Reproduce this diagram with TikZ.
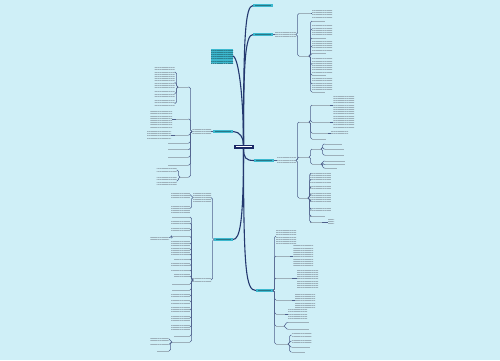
\documentclass[tikz,border=0pt]{standalone}
\usetikzlibrary{patterns.meta}
\definecolor{bgc}{HTML}{CFEFF7}
\definecolor{topicc}{HTML}{3DB9CF}
\definecolor{rootc}{HTML}{1A2866}
\definecolor{linkc}{HTML}{23386F}
\definecolor{txtc}{HTML}{9DB0BA}
\tikzset{
every node/.style={inner sep=0pt, outer sep=0pt}, % nodes are exactly as large as asked
greek/.style={anchor=west, pattern={Lines[distance=2.2pt, line width=0.55pt]}, pattern color=txtc}, % block of tiny text
ln/.style={anchor=west, fill=txtc, minimum height=0.7pt}, % one line of tiny text
topic/.style={anchor=west, fill=topicc, minimum width=20pt, minimum height=3.5pt,
  path picture={\fill[topicc!65!black] ([xshift=2pt,yshift=-0.25pt]path picture bounding box.west) rectangle ([xshift=-2pt,yshift=0.25pt]path picture bounding box.east);}},
root/.style={fill=rootc, minimum width=20pt, minimum height=4pt,
  path picture={\fill[white] ([xshift=2pt,yshift=-0.35pt]path picture bounding box.west) rectangle ([xshift=-2pt,yshift=0.35pt]path picture bounding box.east);}},
note/.style={anchor=west, preaction={fill=topicc}, pattern={Lines[distance=2.2pt, line width=0.4pt]}, pattern color=topicc!70!black},
link/.style={draw=linkc, line width=1.1pt}, % root to main topics
sub/.style={draw=linkc!80, line width=0.5pt, rounded corners=1.5pt}, % everything further out
}
% name, left x, y, width, height
\newcommand{\blk}[5]{%
  \ifdim#5pt<2pt
    \node[ln, minimum width={(#4)*1pt}] (#1) at (#2,#3) {};
  \else
    \node[greek, minimum width={(#4)*1pt}, minimum height={(#5)*1pt}] (#1) at (#2,#3) {};
  \fi}

\begin{document}
\begin{tikzpicture}[x=1pt, y=-1pt]
\useasboundingbox[fill=bgc] (0,0) rectangle (500,360);

\node[root] (root) at (243.5,146.5) {};
\node[topic] (b1) at (253,5.5) {};
\node[topic] (b2) at (253,34.5) {};
\node[note, minimum width=22pt, minimum height=14pt] (note) at (211,56) {};
\node[topic] (b3) at (213,131.5) {};
\node[topic] (b4) at (254,160.5) {};
\node[topic, minimum width=19pt] (b5) at (214,239.5) {};
\node[topic, minimum width=17pt] (b6) at (256,290.5) {};
\draw[link] (root.north) .. controls (243.5,40) and (245,5.5) .. (b1.west);
\draw[link] (root.north) .. controls (243.5,65) and (245,34.5) .. (b2.west);
\draw[link] (root.north) .. controls (243.5,100) and (239,58) .. (note.east);
\draw[link] (root.north) .. controls (243.5,138) and (240,131.5) .. (b3.east);
\draw[link] (root.south) .. controls (243.5,158) and (246,160.5) .. (b4.west);
\draw[link] (root.south) .. controls (243.5,222) and (240,239.5) .. (b5.east);
\draw[link] (root.south) .. controls (243.5,272) and (246,290.5) .. (b6.west);

% upper right
\blk{t2}{275}{34.5}{21}{6}
\draw[sub] (b2.east) -- (t2.west);
\blk{p1}{299}{13.5}{12}{1}
\blk{p1x}{312}{13.5}{20}{8}
\blk{p2}{299}{56}{10}{1}
\draw[sub] (p1.east) -- (p1x.west);
\foreach \c in {p1,p2} \draw[sub] (t2.east) -- ++(1.5,0) |- (\c.west);
\foreach \yy/\ww/\hh [count=\i] in {21/13/1, 29/20/10, 38/14/1, 46/20/10, 53.5/14/1, 64.5/20/15, 75/14/1, 84/20/12, 92/13/1}{
  \blk{p2-\i}{312}{\yy}{\ww}{\hh}
  \draw[sub] (p2.east) -- ++(1.5,0) |- (p2-\i.west);
}

% upper left
\blk{t3}{192}{131.5}{19}{6}
\draw[sub] (b3.west) -- (t3.east);
\foreach \yy/\xx [count=\i] in {87/178, 119/176, 135/175, 143/168, 149.5/168, 157/168, 165/168, 177/180}{
  \blk{v\i}{\xx}{\yy}{188-\xx}{1}
  \draw[sub] (t3.west) -- ++(-1.5,0) |- (v\i.east);
}
\foreach \yy/\hh [count=\i] in {72/9, 82.5/9, 93.5/6, 103.5/6}{
  \blk{v1-\i}{154.5}{\yy}{20}{\hh}
  \draw[sub] (v1.west) -- ++(-1.5,0) |- (v1-\i.east);
}
\blk{v2x}{150}{119}{22}{18}
\blk{v3x}{147}{135}{24}{9}
\draw[sub] (v2.west) -- (v2x.east);
\draw[sub] (v3.west) -- (v3x.east);
\foreach \yy/\hh [count=\i] in {170/4, 181/8}{
  \blk{v8-\i}{156.5}{\yy}{20}{\hh}
  \draw[sub] (v8.west) -- ++(-1.5,0) |- (v8-\i.east);
}

% middle right
\blk{t4}{277}{160.5}{19}{6}
\draw[sub] (b4.east) -- (t4.west);
\foreach \yy/\ww [count=\i] in {122/10, 157/10, 198/9}{
  \blk{r\i}{299}{\yy}{\ww}{1}
  \draw[sub] (t4.east) -- ++(1.5,0) |- (r\i.west);
}
\foreach \yy/\ww [count=\i] in {105/18, 122/18, 133/16, 139/14}{
  \blk{r1-\i}{312}{\yy}{\ww}{1}
  \draw[sub] (r1.east) -- ++(1.5,0) |- (r1-\i.west);
}
\blk{r1-1x}{333}{105}{21}{18}
\blk{r1-2x}{333}{122}{21}{12}
\blk{r1-3x}{331}{133}{17}{3}
\foreach \i in {1,2,3} \draw[sub] (r1-\i.east) -- (r1-\i x.west);
\foreach \yy [count=\i] in {149, 164}{
  \blk{r2-\i}{312}{\yy}{9}{1}
  \draw[sub] (r2.east) -- ++(1.5,0) |- (r2-\i.west);
}
\foreach \yy/\ww [count=\i] in {144/17, 149/19, 155/19}{
  \blk{r2-1-\i}{325}{\yy}{\ww}{1}
  \draw[sub] (r2-1.east) -- ++(1.5,0) |- (r2-1-\i.west);
}
\foreach \yy/\ww [count=\i] in {161/20, 164.5/20, 168/12}{
  \blk{r2-2-\i}{325}{\yy}{\ww}{1}
  \draw[sub] (r2-2.east) -- ++(1.5,0) |- (r2-2-\i.west);
}
\foreach \yy/\ww/\hh [count=\i] in {173.5/21/3, 179.5/21/5, 187/21/4, 194.5/21/5, 201/21/4, 209/21/4, 216/15/1, 222/12/1}{
  \blk{r3-\i}{310}{\yy}{\ww}{\hh}
  \draw[sub] (r3.east) -- ++(1.5,0) |- (r3-\i.west);
}
\blk{r3-8x}{328}{222}{6}{5}
\draw[sub] (r3-8.east) -- (r3-8x.west);

% lower left
\blk{y1}{193}{197.5}{18}{9}
\blk{y2}{193}{280}{18}{3}
\foreach \c in {y1,y2} \draw[sub] (b5.west) -- ++(-1.5,0) |- (\c.east);
\foreach \yy/\hh [count=\i] in {194.5/5, 208.5/7}{
  \blk{y1-\i}{171}{\yy}{19}{\hh}
  \draw[sub] (y1.west) -- ++(-1.5,0) |- (y1-\i.east);
}
\foreach \yy/\ww/\hh [count=\i] in {217/18/1, 223/19/4, 229/19/4, 236.5/17/1, 243/19/4, 249/19/3, 254/19/3, 259/16/3, 264.5/19/3, 270/19/3, 276/16/3, 284/18/1, 290/18/1, 296/19/3, 302/19/4, 310/19/6, 318/19/6, 327/19/7, 336/16/1, 342/18/1}{
  \blk{y2-\i}{190-\ww}{\yy}{\ww}{\hh}
  \draw[sub] (y2.west) -- ++(-1.5,0) |- (y2-\i.east);
}
\blk{y2-4x}{150}{237.5}{19}{5}
\draw[sub] (y2-4.west) -- ++(-1.5,0) |- (y2-4x.east);
\foreach \yy/\xx/\ww/\hh [count=\i] in {339/150/19/3, 344.5/150/19/3, 351/156.5/12.5/1}{
  \blk{y2-20-\i}{\xx}{\yy}{\ww}{\hh}
  \draw[sub] (y2-20.west) -- ++(-1.5,0) |- (y2-20-\i.east);
}

% lower right
\blk{h1}{276}{236}{20}{14}
\foreach \yy/\ww [count=\i from 2] in {256/14, 278/16, 300/16, 314/9, 326/8, 344/12}{
  \blk{h\i}{276}{\yy}{\ww}{1}
}
\foreach \i in {1,...,7} \draw[sub] (b6.east) -- ++(1.5,0) |- (h\i.west);
\blk{h2x}{293}{256}{20}{21}
\blk{h3x}{297}{278}{21}{20}
\blk{h4x}{295}{300}{20}{14}
\blk{h5x}{288}{314}{19}{9}
\foreach \i in {2,...,5} \draw[sub] (h\i.east) -- (h\i x.west);
\foreach \yy [count=\i] in {322.5, 329}{
  \blk{h6-\i}{288}{\yy}{21}{1}
  \draw[sub] (h6.east) -- ++(1.5,0) |- (h6-\i.west);
}
\foreach \yy/\ww/\hh [count=\i] in {335/20/3, 341/20/3, 347/18/1, 352/13/1}{
  \blk{h7-\i}{291.5}{\yy}{\ww}{\hh}
  \draw[sub] (h7.east) -- ++(1.5,0) |- (h7-\i.west);
}
\end{tikzpicture}
\end{document}
